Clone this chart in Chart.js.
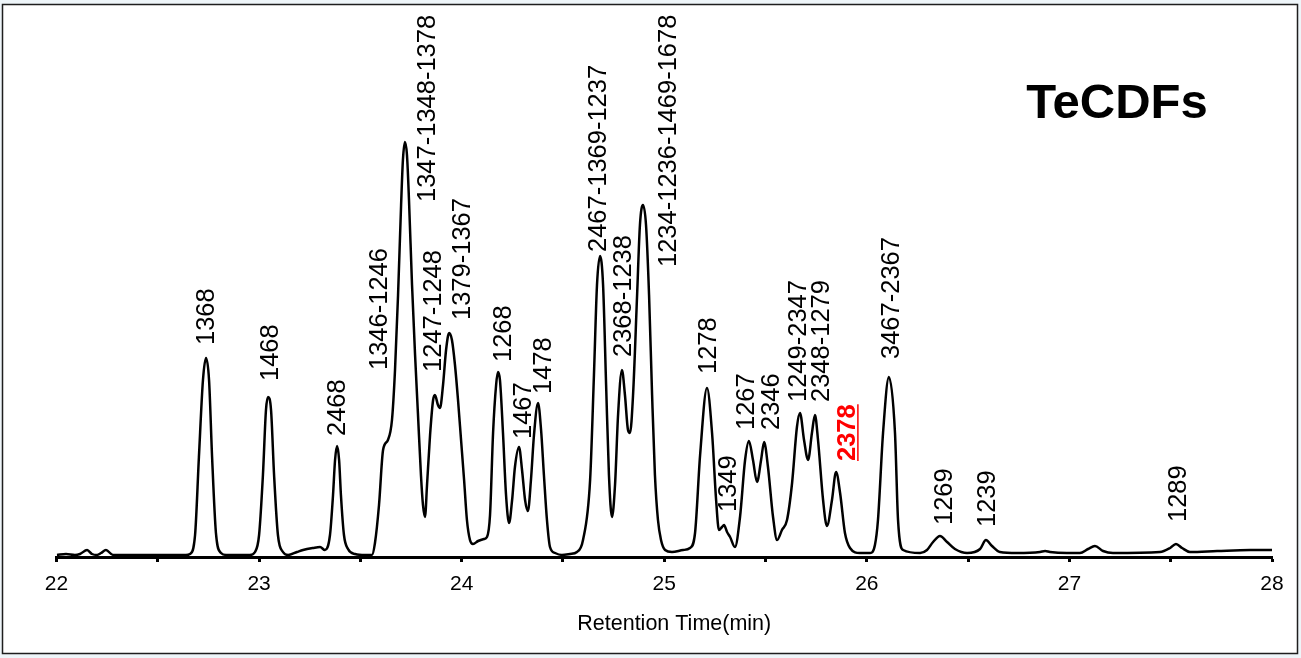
<!DOCTYPE html>
<html>
<head>
<meta charset="utf-8">
<title>TeCDFs</title>
<script src="https://cdn.jsdelivr.net/npm/chart.js@4.4.1/dist/chart.umd.min.js"></script>
<style>
    html, body { margin: 0; padding: 0; background: #eef5f9; }
    #wrap { position: relative; width: 1301px; height: 658px; }
</style>
</head>
<body>
<div id="wrap"><canvas id="chromChart" width="1301" height="658"></canvas></div>
<script>
// TeCDF trace: retention time (min) and detector signal
const rt = [
    22.002, 22.047, 22.091, 22.116, 22.151, 22.175, 22.200, 22.220, 22.244, 22.279,
    22.462, 22.639, 22.659, 22.684, 22.703, 22.723, 22.738, 22.753, 22.768, 22.787,
    22.812, 22.837, 22.955, 22.980, 23.000, 23.019, 23.034, 23.044, 23.059, 23.074,
    23.093, 23.118, 23.143, 23.187, 23.217, 23.266, 23.301, 23.325, 23.350, 23.365,
    23.375, 23.385, 23.395, 23.404, 23.419, 23.439, 23.474, 23.523, 23.557, 23.572,
    23.592, 23.612, 23.636, 23.656, 23.671, 23.686, 23.701, 23.710, 23.720, 23.730,
    23.740, 23.755, 23.770, 23.784, 23.799, 23.809, 23.819, 23.829, 23.844, 23.859,
    23.868, 23.883, 23.893, 23.908, 23.923, 23.938, 23.952, 23.967, 23.982, 23.997,
    24.012, 24.026, 24.041, 24.056, 24.081, 24.110, 24.125, 24.140, 24.155, 24.170,
    24.179, 24.189, 24.204, 24.219, 24.234, 24.249, 24.263, 24.283, 24.298, 24.313,
    24.327, 24.342, 24.357, 24.377, 24.392, 24.406, 24.421, 24.436, 24.461, 24.495,
    24.535, 24.569, 24.599, 24.634, 24.653, 24.668, 24.683, 24.698, 24.713, 24.727,
    24.742, 24.757, 24.772, 24.791, 24.806, 24.821, 24.831, 24.846, 24.866, 24.880,
    24.895, 24.910, 24.925, 24.940, 24.954, 24.969, 24.984, 25.004, 25.038, 25.093,
    25.127, 25.152, 25.177, 25.211, 25.236, 25.256, 25.270, 25.285, 25.295, 25.310,
    25.325, 25.349, 25.374, 25.399, 25.418, 25.438, 25.458, 25.478, 25.493, 25.512,
    25.537, 25.557, 25.581, 25.606, 25.631, 25.655, 25.670, 25.690, 25.710, 25.729,
    25.744, 25.759, 25.784, 25.803, 25.828, 25.848, 25.868, 25.892, 25.917, 25.966,
    26.016, 26.040, 26.055, 26.080, 26.109, 26.139, 26.154, 26.179, 26.263, 26.297,
    26.327, 26.361, 26.396, 26.435, 26.495, 26.559, 26.588, 26.618, 26.657, 26.741,
    26.855, 26.880, 26.904, 26.988, 27.052, 27.092, 27.126, 27.166, 27.215, 27.447,
    27.497, 27.526, 27.556, 27.595, 27.729, 27.892, 28.000
];
const signal = [
    0, 1, 0, 1, 5, 1, 0, 2, 5, 0,
    0, 0, 1, 20, 98, 175, 197, 175, 98, 22,
    2, 0, 0, 3, 20, 80, 145, 158, 145, 80,
    20, 3, 0, 3, 5, 7, 8, 5, 20, 60,
    95, 109, 95, 60, 20, 6, 1, 0, 0, 12,
    50, 105, 115, 135, 185, 260, 350, 395, 413, 400,
    355, 270, 200, 142, 80, 50, 38, 70, 120, 155,
    160, 150, 147, 170, 205, 222, 215, 190, 155, 115,
    75, 35, 15, 11, 14, 16, 18, 40, 122, 170,
    183, 175, 122, 60, 32, 55, 88, 108, 85, 55,
    44, 75, 120, 152, 125, 80, 35, 8, 2, 0,
    1, 3, 15, 75, 180, 270, 299, 270, 170, 80,
    38, 70, 140, 185, 160, 125, 122, 160, 260, 330,
    350, 330, 260, 160, 80, 35, 15, 5, 3, 5,
    7, 22, 100, 167, 122, 55, 25, 28, 30, 23,
    18, 8, 38, 95, 114, 95, 73, 95, 113, 88,
    38, 15, 25, 35, 72, 128, 142, 115, 95, 122,
    140, 115, 55, 29, 55, 83, 62, 22, 7, 2,
    2, 10, 35, 122, 178, 122, 35, 5, 2, 5,
    13, 19, 13, 6, 2, 6, 15, 9, 3, 2,
    3, 4, 3, 2, 2, 6, 9, 4, 2, 3,
    7, 11, 7, 3, 4, 5, 5
];

// congener labels, the retention time they sit over and the signal level they start from
const peakNames = [
    "1368", "1468", "2468", "1346-1246", "1347-1348-1378", "1247-1248", "1379-1367",
    "1268", "1467", "1478", "2467-1369-1237", "2368-1238", "1234-1236-1469-1678",
    "1278", "1349", "1267", "2346", "1249-2347", "2348-1279", "2378", "3467-2367",
    "1269", "1239", "1289"
];
const peakRt = [
    22.733, 23.049, 23.380, 23.587, 23.824, 23.854, 23.997,
    24.199, 24.298, 24.397, 24.668, 24.791, 25.014,
    25.211, 25.310, 25.399, 25.522, 25.655, 25.769, 25.897, 26.115,
    26.376, 26.588, 27.531
];
const labelBase = [
    210, 174, 119, 185, 353, 183, 235,
    193, 116, 161, 303, 198, 288,
    181, 43, 125, 125, 153, 153, 94, 196,
    30, 28, 33
];
const flagged = ["2378"];

const xTicks = [22, 23, 24, 25, 26, 27, 28];

const FONT = "'Liberation Sans', Arial, Helvetica, sans-serif";

const framePlugin = {
    id: "frame",
    beforeDraw(chart) {
        const ctx = chart.ctx;
        ctx.save();
        ctx.fillStyle = "#ffffff";
        ctx.fillRect(3, 5, 1294, 648);
        ctx.strokeStyle = "#1e1e1e";
        ctx.lineWidth = 1.5;
        ctx.strokeRect(2.5, 4.5, 1295, 649);
        ctx.restore();
    }
};

const peakLabels = {
    id: "peakLabels",
    afterDatasetsDraw(chart, args, opts) {
        const { ctx, scales: { x, y } } = chart;
        peakNames.forEach((name, i) => {
            const hot = flagged.includes(name);
            ctx.save();
            ctx.font = (hot ? "bold " : "") + opts.size + "px " + FONT;
            ctx.fillStyle = hot ? opts.flagColor : opts.color;
            ctx.translate(x.getPixelForValue(peakRt[i]) + opts.size * 0.36, y.getPixelForValue(labelBase[i]));
            ctx.rotate(-Math.PI / 2);
            ctx.textAlign = "left";
            ctx.textBaseline = "alphabetic";
            ctx.fillText(name, 0, 0);
            if (hot) {
                ctx.fillRect(0, 2, ctx.measureText(name).width, 1.5);
            }
            ctx.restore();
        });

        const area = chart.chartArea;
        ctx.save();
        ctx.fillStyle = "#000000";
        ctx.textAlign = "center";

        // group name
        ctx.font = "bold 49px " + FONT;
        ctx.textBaseline = "alphabetic";
        ctx.fillText("TeCDFs", area.right - 155, area.top + 103);

        // axis title, sitting a little right of centre
        ctx.font = "21.5px " + FONT;
        ctx.textBaseline = "middle";
        ctx.fillText("Retention Time(min)", (area.left + area.right) / 2 + 10, area.bottom + 67);
        ctx.restore();
    }
};

const ctx = document.getElementById("chromChart").getContext("2d");

const data = {
    datasets: [
        {
            label: "TeCDFs",
            data: rt.map((t, i) => ({ x: t, y: signal[i] })),
            borderColor: "#000000",
            borderWidth: 2.5,
            pointRadius: 0,
            fill: false,
            cubicInterpolationMode: "monotone",
        },
    ],
};

const config = {
    type: "line",
    data: data,
    options: {
        responsive: false,
        animation: false,
        layout: {
            padding: { left: 56.5, right: 29, top: 15, bottom: 0 },
        },
        scales: {
            x: {
                type: "linear",
                min: 22,
                max: 28,
                afterFit(scale) {
                    scale.height = 101;
                },
                ticks: {
                    stepSize: 0.5,
                    autoSkip: false,
                    maxRotation: 0,
                    color: "#000000",
                    padding: 10,
                    font: { family: FONT, size: 21 },
                    callback: (v) => (xTicks.includes(v) ? String(v) : ""),
                },
                grid: {
                    drawOnChartArea: false,
                    drawTicks: true,
                    tickLength: 5,
                    tickWidth: 3,
                    tickColor: "#000000",
                },
                border: { display: true, color: "#000000", width: 3 },
            },
            y: {
                display: false,
                min: -2,
                max: 540,
            },
        },
        plugins: {
            legend: { display: false },
            tooltip: { enabled: false },
            peakLabels: { size: 25.5, color: "#000000", flagColor: "#ff0000" },
        },
    },
    plugins: [framePlugin, peakLabels],
};

const chromChart = new Chart(ctx, config);
</script>
</body>
</html>
